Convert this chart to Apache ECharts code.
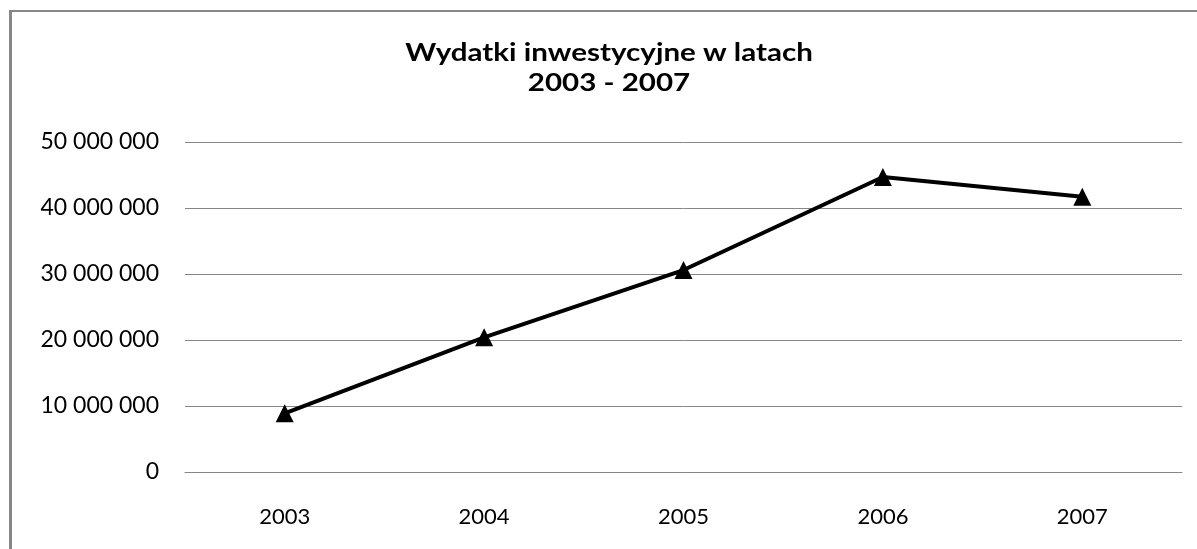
<!DOCTYPE html>
<html>
<head>
<meta charset="utf-8">
<script src="https://cdn.jsdelivr.net/npm/echarts@6/dist/echarts.min.js"></script>
<style>
  html, body { margin: 0; padding: 0; background: #fff; }
  #chart { width: 1197px; height: 549px; }
</style>
</head>
<body>
<div id="chart"></div>
<script>
const years = ['2003', '2004', '2005', '2006', '2007'];
const spending = [8900000, 20400000, 30600000, 44700000, 41700000];
const titleLines = ['Wydatki inwestycyjne w latach', '2003 - 2007'];
const yMin = 0;
const yMax = 50000000;
const yStep = 10000000;

const chart = echarts.init(document.getElementById('chart'));

// thousands separator, like "50 000 000"
const fmt = v => String(v).replace(/\B(?=(\d{3})+(?!\d))/g, ' ');

chart.setOption({
  animation: false,
  backgroundColor: '#fff',
  grid: { left: 185, right: 15, top: 142, bottom: 77, containLabel: false },
  xAxis: {
    type: 'category',
    data: years,
    boundaryGap: true,
    axisLine: { show: true, lineStyle: { color: '#868686', width: 1 } },
    axisTick: { show: false },
    axisLabel: { color: '#000', fontFamily: 'Lato', fontSize: 22, margin: 34 },
    splitLine: { show: false }
  },
  yAxis: {
    type: 'value',
    min: yMin,
    max: yMax,
    interval: yStep,
    axisLine: { show: false },
    axisTick: { show: false },
    axisLabel: { color: '#000', fontFamily: 'Lato', fontSize: 23, margin: 26, formatter: fmt },
    splitLine: { show: true, lineStyle: { color: '#868686', width: 1 } }
  },
  series: [{
    type: 'line',
    data: spending,
    symbol: 'triangle',
    symbolSize: 18,
    showSymbol: true,
    lineStyle: { color: '#000', width: 4 },
    itemStyle: { color: '#000', borderWidth: 0 }
  }],
  graphic: [
    { type: 'rect', shape: { x: 9, y: 10, width: 3, height: 539 }, style: { fill: '#878787' } },
    { type: 'rect', shape: { x: 9, y: 10, width: 1188, height: 2 }, style: { fill: '#878787' } },
    {
      // chart title, stretched a little wider like the original
      type: 'text',
      x: 609,
      y: 38,
      scaleX: 1.23,
      style: {
        text: titleLines.join('\n'),
        fontFamily: 'Lato',
        fontWeight: 'bold',
        fontSize: 24,
        lineHeight: 30,
        fill: '#000',
        align: 'center',
        verticalAlign: 'top'
      }
    }
  ]
});
</script>
</body>
</html>
